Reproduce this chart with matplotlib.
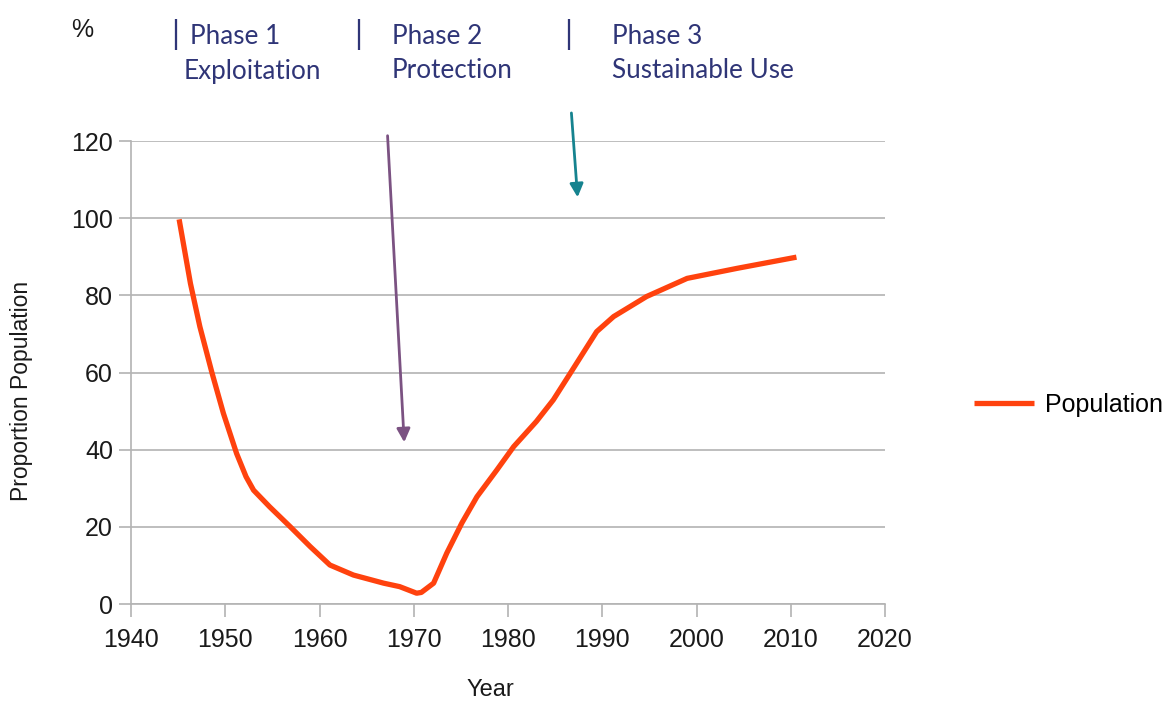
import matplotlib
matplotlib.use("Agg")
from matplotlib import pyplot as plt

# values
years = [1945.1, 1946.3, 1947.3, 1948.6, 1949.8, 1951.2, 1952.2, 1953.0, 1954.7,
         1956.9, 1959.0, 1961.1, 1963.6, 1966.8, 1968.5, 1970.3, 1970.8, 1972.1,
         1973.5, 1975.1, 1976.7, 1978.8, 1980.6, 1983.0, 1984.8, 1986.6, 1989.4,
         1991.2, 1994.7, 1999.0, 2004.3, 2010.6]
population = [99.7, 83.1, 71.9, 59.8, 49.4, 39.0, 33.0, 29.5, 25.2,
              20.0, 14.9, 10.1, 7.5, 5.4, 4.5, 2.8, 3.0, 5.4,
              13.2, 21.0, 27.8, 34.7, 40.8, 47.3, 52.9, 59.8, 70.6,
              74.5, 79.7, 84.4, 87.0, 89.9]

phase_titles = ["Phase 1", "Phase 2", "Phase 3"]
phase_names = ["Exploitation", "Protection", "Sustainable Use"]

xticks = [1940, 1950, 1960, 1970, 1980, 1990, 2000, 2010, 2020]
yticks = [0, 20, 40, 60, 80, 100, 120]

fig = plt.figure(figsize=(11.67, 7.02), dpi=100)
ax = fig.add_axes([0.1123, 0.1396, 0.6461, 0.6595])

ax.plot(years, population, color="#ff420e", linewidth=3.8,
        solid_joinstyle="round", solid_capstyle="butt", label="Population", zorder=3)

ax.set_xlim(1940, 2020)
ax.set_ylim(0, 120)
ax.set_xticks(xticks)
ax.set_yticks(yticks)
ax.yaxis.grid(True, color="#b3b3b3", linewidth=1.2)
ax.set_axisbelow(True)
for side in ["top", "right"]:
    ax.spines[side].set_visible(False)
for side in ["left", "bottom"]:
    ax.spines[side].set_color("#b3b3b3")
    ax.spines[side].set_linewidth(1.2)
ax.tick_params(axis="both", colors="#b3b3b3", labelcolor="#1a1a1a",
               labelsize=18, length=9, width=1.2)
ax.tick_params(axis="y", pad=4)
ax.tick_params(axis="x", pad=8)
for lab in ax.get_xticklabels() + ax.get_yticklabels():
    lab.set_family("Liberation Sans")

ax.set_xlabel("Year", fontsize=17, family="Liberation Sans", color="#1a1a1a")
ax.xaxis.set_label_coords(0.476, -0.163)
ax.set_ylabel("Proportion Population", fontsize=16.5, family="Liberation Sans",
              color="#1a1a1a")
ax.yaxis.set_label_coords(-0.130, 0.46)

leg = ax.legend(loc="center left", bbox_to_anchor=(1.088, 0.43), frameon=False,
                prop={"family": "Liberation Sans", "size": 18},
                handlelength=2.4, handletextpad=0.45)

# arrows marking the phase changes
ax.annotate("", xy=(1969.0, 41.2), xytext=(1967.2, 122.1),
            arrowprops=dict(arrowstyle="-|>", color="#7b5282", lw=2,
                            mutation_scale=20), annotation_clip=False)
ax.annotate("", xy=(1987.4, 104.7), xytext=(1986.7, 128),
            arrowprops=dict(arrowstyle="-|>", color="#16838f", lw=2,
                            mutation_scale=20), annotation_clip=False)

# header text
navy = "#2f3577"
fig.text(82 / 1167, 1 - 30 / 702, "%", fontsize=18, family="Liberation Sans",
         color="#1a1a1a", ha="center", va="center")
bar_x = [175, 358, 568]
title_x = [190, 392, 612]
name_x = [184, 392, 612]
for i in range(3):
    fig.text(bar_x[i] / 1167, 1 - 35 / 702, "|", fontsize=23, family="Lato",
             color=navy, ha="center", va="center")
    fig.text(title_x[i] / 1167, 1 - 37 / 702, phase_titles[i], fontsize=18.8,
             family="Lato", color=navy, ha="left", va="center")
    fig.text(name_x[i] / 1167, 1 - 71 / 702, phase_names[i], fontsize=18.8,
             family="Lato", color=navy, ha="left", va="center")

fig.savefig("out.png", dpi=100)
